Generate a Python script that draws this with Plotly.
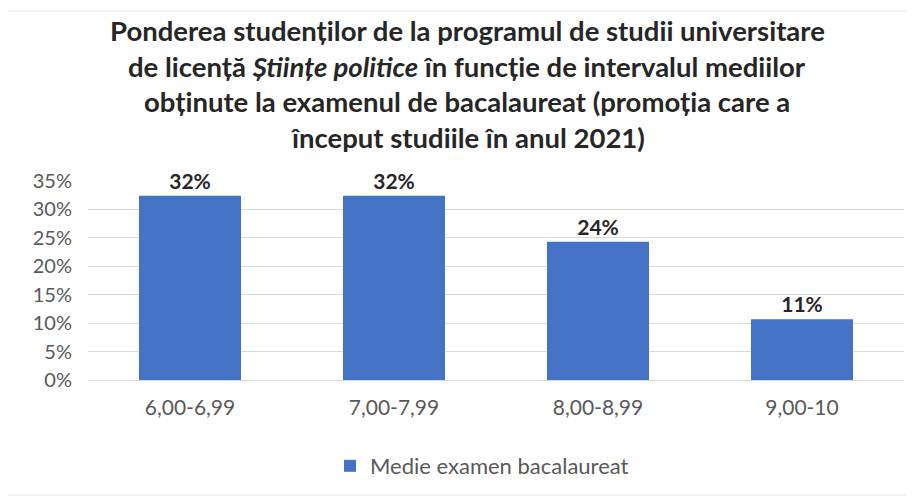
import plotly.graph_objects as go

categories = ["6,00-6,99", "7,00-7,99", "8,00-8,99", "9,00-10"]
values = [0.324, 0.324, 0.243, 0.107]
series_name = "Medie examen bacalaureat"
title_lines = [
    "Ponderea studenților de la programul de studii universitare",
    "de licență <i>Științe politice</i> în funcție de intervalul mediilor",
    "obținute la examenul de bacalaureat (promoția care a",
    "început studiile în anul 2021)",
]
y_ticks = [0, 0.05, 0.10, 0.15, 0.20, 0.25, 0.30, 0.35]

FONT = "Lato"
OFF = 8  # page body margin
W, H = 915 - OFF, 496 - OFF
L, R, T, B = 88 - OFF, 11, 181 - OFF, 116
PW, PH = W - L - R, H - T - B
AXIS_Y = 380 - OFF


def py(screen_y):
    return 1 + (T - (screen_y - OFF)) / PH


def px(screen_x):
    return ((screen_x - OFF) - L) / PW


fig = go.Figure()
fig.add_trace(go.Bar(
    x=categories, y=values, name=series_name,
    marker=dict(color="#4472C4", line=dict(width=0)),
    texttemplate="%{y:.0%}", textposition="outside", cliponaxis=False,
    textfont=dict(family=FONT, size=21, color="#262626", weight="bold"),
    showlegend=True,
))

line_y = [30, 66, 102, 137]
for txt, yy in zip(title_lines, line_y):
    fig.add_annotation(
        text=txt, xref="paper", yref="paper",
        x=px(467), y=py(yy),
        xanchor="center", yanchor="middle", showarrow=False,
        font=dict(family=FONT, size=27.5, color="#262626", weight="bold"),
    )

fig.update_layout(
    width=W, height=H,
    margin=dict(l=L, r=R, t=T, b=B, autoexpand=False),
    paper_bgcolor="white", plot_bgcolor="white",
    bargap=0.5,
    font=dict(family=FONT, color="#595959"),
    legend=dict(
        orientation="h", x=px(482), xanchor="center",
        y=py(466), yanchor="middle",
        font=dict(family=FONT, size=22, color="#595959"),
        itemwidth=30,
    ),
    shapes=[dict(type="rect", xref="paper", yref="paper",
                 x0=px(6), x1=px(914),
                 y0=py(495), y1=py(11),
                 line=dict(color="#e6e6e6", width=1), layer="below")],
)
fig.update_yaxes(
    range=[0, 0.35], tickvals=y_ticks, tickformat=".0%",
    showgrid=True, gridcolor="#d9d9d9", gridwidth=1,
    zeroline=False, showline=False,
    ticks="outside", ticklen=11, tickcolor="rgba(0,0,0,0)",
    tickfont=dict(family=FONT, size=20, color="#595959"),
)
fig.update_xaxes(
    showline=True, linecolor="#d9d9d9", linewidth=1,
    ticks="outside", ticklen=9, tickcolor="rgba(0,0,0,0)",
    tickfont=dict(family=FONT, size=21, color="#595959"),
)

fig.write_html("out.html")
